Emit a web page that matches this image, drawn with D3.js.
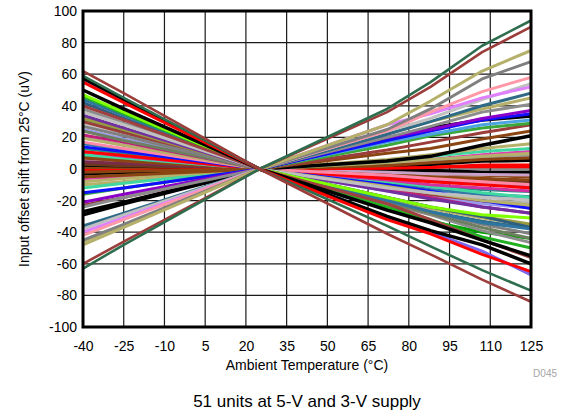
<!DOCTYPE html>
<html>
<head>
<meta charset="utf-8">
<script src="https://cdn.jsdelivr.net/npm/d3@7"></script>
<style>
  html, body { margin: 0; padding: 0; background: #fff; }
  svg { display: block; }
  text { font-family: "Liberation Sans", Arial, sans-serif; }
</style>
</head>
<body>
<svg id="chart" width="565" height="414"></svg>
<script>
// Temperatures (°C) at which each unit was measured
const temps = [-40, -25, 25, 72, 88, 107, 125];
const xTicks = [-40, -25, -10, 5, 20, 35, 50, 65, 80, 95, 110, 125];
const yTicks = [-100, -80, -60, -40, -20, 0, 20, 40, 60, 80, 100];

// Units whose offset rises when cold (positive at -40 °C), values in uV
const unitsColdHigh = [
  [62, 48, 0, -41, -54, -70, -84],
  [59, 45, 0, -36, -49, -64, -77],
  [55, 42, 0, -32, -41, -54, -65],
  [57.5, 44, 0, -30, -39, -48, -60],
  [56, 43, 0, -31, -40, -52, -67],
  [50, 38, 0, -26, -34, -45, -55],
  [40, 31, 0, -22, -32, -45, -56],
  [47, 36, 0, -18, -24, -29, -31],
  [46, 35, 0, -24, -32, -43, -50],
  [44, 34, 0, -20, -27, -34, -38],
  [42, 32, 0, -18, -24, -30, -37],
  [36, 28, 0, -12, -15, -18, -20],
  [34, 26, 0, -14, -19, -24, -28],
  [32, 25, 0, -18, -24, -30, -35],
  [27, 21, 0, -20, -27, -35, -41],
  [24, 18, 0, -21, -28, -37, -44],
  [38, 29, 0, -22, -29, -39, -46.6],
  [21.5, 17, 0, -13, -18, -24, -28],
  [19.4, 15, 0, -11, -15, -20, -23],
  [17, 13, 0, -4, -6, -8, -10],
  [14, 11, 0, -10, -14, -20, -25],
  [11, 8.5, 0, -6, -8, -10, -12],
  [11, 8, 0, -7, -10, -12, -14],
  [9, 7, 0, -8, -11, -15, -18],
  [7, 5, 0, -4, -5, -6, -7],
  [4.6, 3.5, 0, -5, -7, -9, -10],
  [6, 4.5, 0, -2, -3, -3.5, -3.8],
  [13, 10, 0, -8, -11, -13, -14.3],
  [16, 12, 0, -9, -13, -16, -17.5],
  [25, 19, 0, -14, -18, -22, -24.7],
  [30, 23, 0, -13, -17, -21, -23.8],
  [20, 15, 0, -12, -16, -20, -21.6],
  [28, 22, 0, -11, -14, -17, -19.6],
  [33, 25, 0, -25, -33, -40, -44],
  [29, 22, 0, -19, -25, -31, -35.4],
  [31, 24, 0, -20, -27, -33, -37.5],
  [10, 8, 0, 1, 1.5, 1.5, 1.5],
  [3, 2, 0, -3, -5, -6, -8],
  [2.5, 2, 0, -1, -1, -2, -2],
  [0.5, 0.3, 0, -2, -3, -4, -5],
  [8, 6, 0, -5, -7, -9, -11],
  [1, 0.8, 0, -3, -5, -7, -9]
];
const colorsColdHigh = [
  "#9b3d3a", "#2e6e4e", "#ff0000", "#000000", "#7b68ee", "#000000", "#a04040",
  "#80ff00", "#22b022", "#2e75a0", "#2f5f7f", "#c0c0c0", "#7030a0", "#9a9a40",
  "#808080", "#6e7f5f", "#8c8c8c", "#c0207a", "#b5b06a", "#ff88a8", "#1010ff",
  "#ff0000", "#d030a0", "#40d8a0", "#8b4513", "#7a2a4a", "#c8a2c8", "#2a8a8a",
  "#3377aa", "#9999ee", "#9b3d3a", "#b0b0b0", "#c4c4c4", "#00a000", "#b5b06a",
  "#2f6a87", "#ff0000", "#6b3a1e", "#000000", "#8b4513", "#8b4513", "#8b5a2b"
];

// Units whose offset falls when cold (negative at -40 °C), values in uV
const unitsColdLow = [
  [-63, -48, 0, 38, 55, 78, 94],
  [-60, -46, 0, 36, 52, 74, 90],
  [-48, -37, 0, 28, 43, 62, 75],
  [-45, -35, 0, 25, 38, 57, 68],
  [-42, -32, 0, 24, 36, 49, 58],
  [-40, -31, 0, 28, 35, 45, 52],
  [-38, -29, 0, 24, 32, 44, 54],
  [-36, -28, 0, 22, 30, 40, 48],
  [-24, -18, 0, 20, 27, 36, 41],
  [-21, -16, 0, 20, 25, 32, 37],
  [-15, -12, 0, 18, 24, 31, 35],
  [-29, -22, 0, 19, 26, 31, 33.5],
  [-37.5, -29, 0, 17, 22, 28, 31],
  [-16, -12, 0, 15, 21, 26, 29],
  [-23, -18, 0, 12, 17, 23, 28],
  [-5, -4, 0, 10, 13, 19, 24],
  [-27, -21, 0, 5, 8, 15, 21],
  [-8, -6, 0, 6, 9, 13, 16],
  [-12, -9, 0, 5, 8, 11, 13],
  [-10, -8, 0, 4, 6, 8, 10],
  [-2, -1.5, 0, 2, 4, 6, 7],
  [-1, -1, 0, 0.5, 1, 2.5, 2.5],
  [-3, -2, 0, 2, 3, 5, 5.5],
  [-6, -5, 0, 4, 6, 9, 11],
  [-4, -3, 0, 3, 5, 7, 8],
  [-46, -36, 0, 22, 30, 38, 45]
];
const colorsColdLow = [
  "#2e6e4e", "#9b3d3a", "#b5b06a", "#7f7f7f", "#ff99a8", "#e080ff", "#c0c0c0",
  "#2f6a87", "#8c8c8c", "#8b00c8", "#1010ff", "#000000", "#4ba3e0", "#3ca83c",
  "#9b3d3a", "#8b4513", "#000000", "#b5b06a", "#40d8a0", "#b5b06a", "#8b4513",
  "#ff0000", "#000000", "#e040b0", "#999999", "#b5b06a"
];

const svg = d3.select("#chart");
const x = d3.scaleLinear().domain([-40, 125]).range([83, 531]);
const y = d3.scaleLinear().domain([-100, 100]).range([327, 11]);

// grid
const grid = svg.append("g");
grid.selectAll("line.v").data(xTicks.slice(1, -1)).join("line")
  .attr("x1", d => x(d)).attr("x2", d => x(d))
  .attr("y1", y(-100)).attr("y2", y(100))
  .attr("stroke", "#1a1a1a").attr("stroke-width", 1.2);
grid.selectAll("line.h").data(yTicks.slice(1, -1)).join("line")
  .attr("x1", x(-40)).attr("x2", x(125))
  .attr("y1", d => y(d)).attr("y2", d => y(d))
  .attr("stroke", "#1a1a1a").attr("stroke-width", 1.2);

// lines
const line = d3.line().x((d, i) => x(temps[i])).y(d => y(d));
const plot = svg.append("g");
const order = [];
// draw extremes last: reverse within each group, interleaved
const a = unitsColdHigh.map((v, i) => ({v, c: colorsColdHigh[i], k: i})).reverse();
const b = unitsColdLow.map((v, i) => ({v, c: colorsColdLow[i], k: i})).reverse();
const n = Math.max(a.length, b.length);
for (let i = 0; i < n; i++) {
  const ia = i - (n - a.length), ib = i - (n - b.length);
  if (ib >= 0) order.push(b[ib]);
  if (ia >= 0) order.push(a[ia]);
}
plot.selectAll("path").data(order).join("path")
  .attr("d", d => line(d.v))
  .attr("fill", "none")
  .attr("stroke", d => d.c)
  .attr("stroke-width", d => d.k < 2 ? 2.6 : (d.c === "#000000" ? 3.5 : 3))
  .attr("stroke-linejoin", "round");

// frame
svg.append("rect")
  .attr("x", x(-40)).attr("y", y(100))
  .attr("width", x(125) - x(-40)).attr("height", y(-100) - y(100))
  .attr("fill", "none").attr("stroke", "#000").attr("stroke-width", 3);

// axes
const xAxis = svg.append("g").attr("transform", `translate(0,${y(-100)})`)
  .call(d3.axisBottom(x).tickValues(xTicks).tickSize(0).tickPadding(14).tickFormat(d3.format("d")));
const yAxis = svg.append("g").attr("transform", `translate(${x(-40)},0)`)
  .call(d3.axisLeft(y).tickValues(yTicks).tickSize(0).tickPadding(6).tickFormat(d3.format("d")));
[xAxis, yAxis].forEach(g => {
  g.select(".domain").remove();
  g.selectAll("text").attr("font-size", 14).attr("fill", "#000")
    .attr("font-family", "'Liberation Sans', Arial, sans-serif");
});
xAxis.selectAll("text").text(d => d < 0 ? "-" + Math.abs(d) : d);
yAxis.selectAll("text").text(d => d < 0 ? "-" + Math.abs(d) : d);

// titles
svg.append("text").attr("x", 307).attr("y", 370).attr("text-anchor", "middle")
  .attr("font-size", 14).text("Ambient Temperature (°C)");
svg.append("text").attr("transform", "translate(29,169) rotate(-90)")
  .attr("text-anchor", "middle").attr("font-size", 14)
  .text("Input offset shift from 25°C (uV)");
svg.append("text").attr("x", 557).attr("y", 377).attr("text-anchor", "end")
  .attr("font-size", 10).attr("fill", "#a6a6a6").text("D045");
svg.append("text").attr("x", 307).attr("y", 407).attr("text-anchor", "middle")
  .attr("font-size", 17).text("51 units at 5-V and 3-V supply");
</script>
</body>
</html>
